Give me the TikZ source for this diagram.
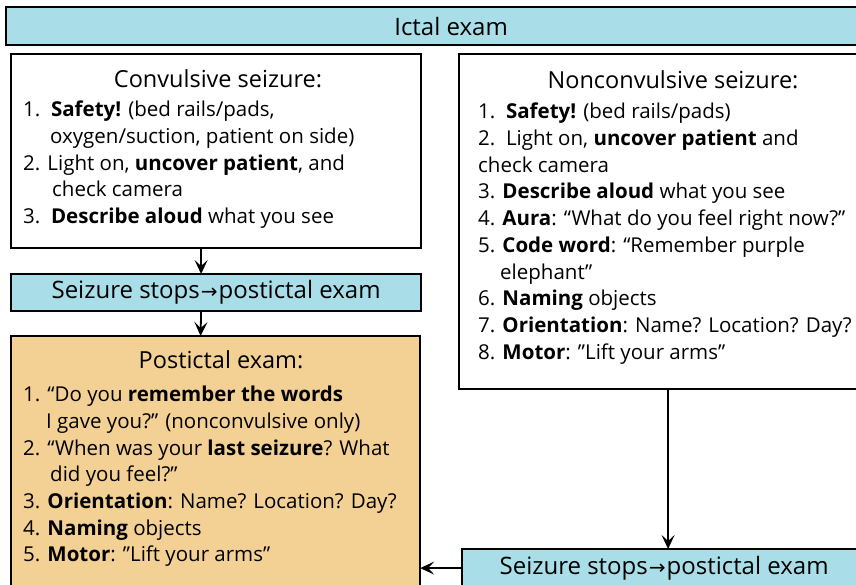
\documentclass[tikz,border=0pt]{standalone}
\usepackage{fontspec}
\setmainfont{Open Sans}
\newfontfamily\arrowfont{DejaVu Sans}
\usetikzlibrary{positioning,arrows.meta}

\definecolor{ictalblue}{HTML}{A9DDE7}
\definecolor{postictaltan}{HTML}{F3D093}

\newcommand{\tostep}{\kern1pt{\arrowfont\fontsize{20}{24}\selectfont →}\kern1pt}

\tikzset{
  box/.style={draw=black, line width=2.2pt, rectangle, anchor=north west, inner sep=0pt},
  bluebox/.style={box, fill=ictalblue, font=\fontsize{24}{28}\selectfont},
  whitebox/.style={box, fill=white},
  tanbox/.style={box, fill=postictaltan},
  boxtitle/.style={font=\fontsize{23.5}{28}\selectfont, inner sep=0pt},
  boxlist/.style={font=\fontsize{20.5}{26.7}\selectfont, align=left, anchor=north west, inner sep=0pt},
  arr/.style={line width=1.8pt, -{Stealth[length=14pt, width=13pt, inset=6pt]}, shorten >=-1pt}
}

\begin{document}
\begin{tikzpicture}[x=1pt, y=-1pt]
  \useasboundingbox (0,0) rectangle (856,584);
  \clip (0,0) rectangle (856,584);

  % boxes
  \node[bluebox, minimum width=890pt, minimum height=38pt] (ictal) at (5,6) {Ictal exam};
  \node[whitebox, minimum width=410pt, minimum height=194pt] (conv) at (10,53) {};
  \node[bluebox, minimum width=410pt, minimum height=37pt] (stopL) at (10,273) {Seizure stops\tostep postictal exam};
  \node[tanbox, minimum width=409pt, minimum height=280pt] (post) at (10,335) {};
  \node[whitebox, minimum width=418pt, minimum height=335pt] (nonconv) at (458,53) {};
  \node[bluebox, minimum width=404pt, minimum height=38pt] (stopR) at (461,548) {Seizure stops\tostep postictal exam};

  % texts
  \node[boxtitle] (convtitle) at (218,79) {Convulsive seizure:};
  \node[boxlist] (convlist) at (23,101) {%
    1.\ \ \textbf{Safety!} (bed rails/pads,\\
    \hspace*{27pt}oxygen/suction, patient on side)\\
    2. Light on, \textbf{uncover patient}, and\\
    \hspace*{29pt}check camera\\
    3.\ \ \textbf{Describe aloud} what you see};

  \node[boxtitle] (nonconvtitle) at (673,80) {Nonconvulsive seizure:};
  \node[boxlist] (nonconvlist) at (478,103) {%
    1.\ \ \textbf{Safety!} (bed rails/pads)\\
    2.\ \ Light on, \textbf{uncover patient} and\\
    check camera\\
    3. \textbf{Describe aloud} what you see\\
    4. \textbf{Aura}: “What do you feel right now?”\\
    5. \textbf{Code word}: “Remember purple\\
    \hspace*{22pt}elephant”\\
    6. \textbf{Naming} objects\\
    7. \textbf{Orientation}: Name? Location? Day?\\
    8. \textbf{Motor}: ”Lift your arms”};

  \node[boxtitle] (posttitle) at (221,360) {Postictal exam:};
  \node[boxlist] (postlist) at (23,386) {%
    1. “Do you \textbf{remember the words}\\
    \hspace*{23pt}I gave you?” (nonconvulsive only)\\
    2. “When was your \textbf{last seizure}? What\\
    \hspace*{27pt}did you feel?”\\
    3. \textbf{Orientation}: Name? Location? Day?\\
    4. \textbf{Naming} objects\\
    5. \textbf{Motor}: ”Lift your arms”};

  % arrows
  \draw[arr] ([xshift=-15pt]conv.south) -- ([xshift=-15pt]stopL.north);
  \draw[arr] ([xshift=-15pt]stopL.south) -- ([xshift=-15pt]post.north);
  \draw[arr] (nonconv.south) -- (nonconv.south |- stopR.north);
  \draw[arr] (stopR.west) -- (stopR.west -| post.east);
\end{tikzpicture}
\end{document}
